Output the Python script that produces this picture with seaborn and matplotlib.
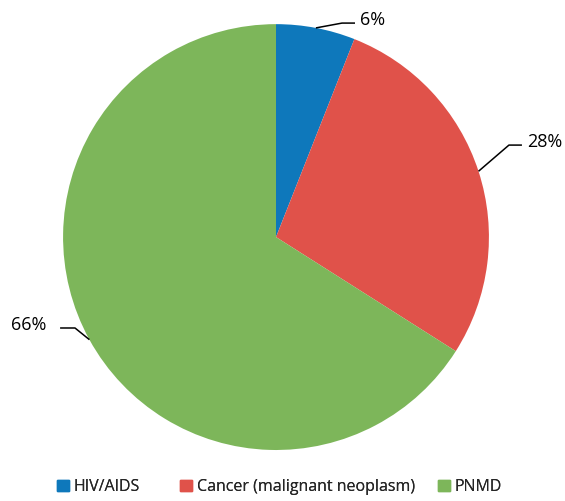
import numpy as np
import matplotlib
matplotlib.use("Agg")
import matplotlib.pyplot as plt
import seaborn as sns

sns.set_theme(style="white")
plt.rcParams['font.family'] = ['Open Sans', 'DejaVu Sans']

# data
causes = ['HIV/AIDS', 'Cancer (malignant neoplasm)', 'PNMD']
shares = [6, 28, 66]
colors = ['#0E78BB', '#E0524A', '#7DB65A']

# elbow / label positions for the leader lines (axis units, radius = 1)
elbows = [(0.31, 1.005), (1.094, 0.432), (-0.944, -0.427)]
ends = [0.371, 1.155, -1.014]
text_x = [0.394, 1.178, -1.08]
text_y = [1.02, 0.446, -0.413]
legend_x = [57, 180, 438]

fig = plt.figure(figsize=(5.65, 5.01), dpi=100)
ax = fig.add_axes([0.1115, 0.1018, 0.754, 0.850])

wedges, _ = ax.pie(shares, colors=colors, startangle=90, counterclock=False,
                   radius=1, wedgeprops=dict(linewidth=0))
ax.set_xlim(-1, 1)
ax.set_ylim(-1, 1)
ax.set_aspect('equal')
ax.axis('off')

for i, w in enumerate(wedges):
    ang = np.deg2rad((w.theta1 + w.theta2) / 2)
    x0, y0 = np.cos(ang), np.sin(ang)
    ex, ey = elbows[i]
    ax.plot([x0, ex, ends[i]], [y0, ey, ey], color='black', lw=1.1,
            clip_on=False, solid_capstyle='butt')
    ha = 'left' if ends[i] > ex else 'right'
    ax.text(text_x[i], text_y[i], f'{shares[i]}%', ha=ha, va='center',
            fontsize=13, color='black', clip_on=False)

# legend entries placed one by one (uneven spacing in the original)
for c, name, lx in zip(colors, causes, legend_x):
    h = plt.Rectangle((0, 0), 1, 1, color=c)
    lg = fig.legend([h], [name], loc='center left',
                    bbox_to_anchor=(lx / 565, 1 - 487 / 501),
                    frameon=False, fontsize=11.5, handlelength=0.75,
                    handleheight=0.75, handletextpad=0.3,
                    borderpad=0, borderaxespad=0)
    fig.add_artist(lg)

fig.savefig('out.png', dpi=100, facecolor='white')
